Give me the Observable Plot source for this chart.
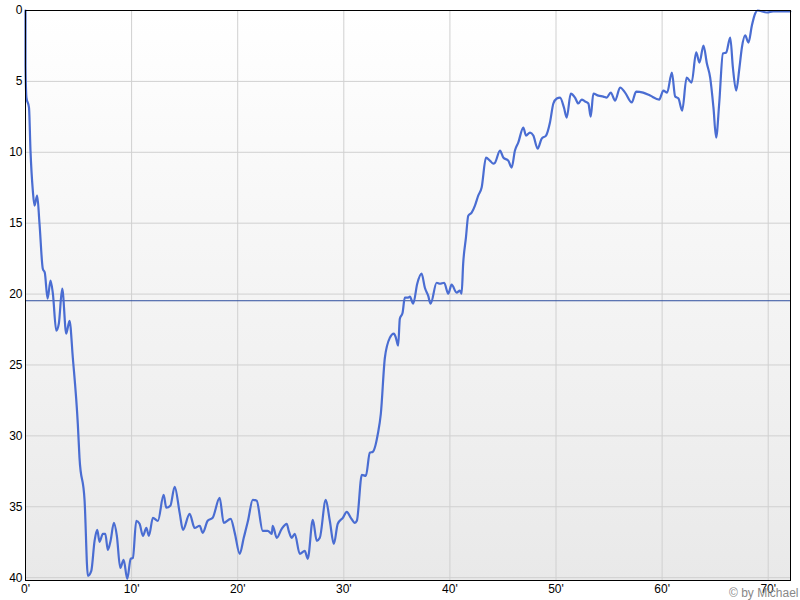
<!DOCTYPE html>
<html><head><meta charset="utf-8">
<script src="https://cdn.jsdelivr.net/npm/d3@7"></script>
<script src="https://cdn.jsdelivr.net/npm/@observablehq/plot@0.6"></script>
<style>body{margin:0;background:#fff;} #chart{width:800px;height:600px;}</style>
</head><body><div id="chart"></div>
<script>
const minutes = [0,0,0.09,0.33,0.47,0.69,0.85,1.10,1.32,1.63,1.82,2.08,2.36,2.58,2.90,3.14,3.46,3.84,4.15,4.46,4.93,5.09,5.57,5.88,6.20,6.51,6.76,6.98,7.29,7.52,7.76,8.02,8.33,8.61,8.93,9.25,9.59,9.91,10.12,10.44,10.75,11.07,11.39,11.63,12.01,12.48,13.02,13.27,13.65,14.06,14.53,14.84,15.47,15.94,16.42,16.70,17.17,17.64,18.30,18.68,19.34,19.72,20.19,20.57,20.97,21.42,21.79,22.36,22.83,23.21,23.30,23.68,24.15,24.62,24.81,25.09,25.38,25.85,26.32,26.60,27.08,27.45,27.74,28.30,28.68,29.06,29.43,29.91,30.28,30.66,31.04,31.23,31.70,32.08,32.45,32.74,33.21,33.49,33.87,34.34,34.72,34.91,35.12,35.28,35.54,35.75,36.07,36.23,36.54,36.92,37.33,37.64,37.95,38.18,38.75,39.06,39.46,39.84,40.16,40.63,40.94,41.10,41.25,41.51,41.73,42.05,42.36,42.67,42.99,43.40,43.77,44.08,44.25,44.72,45.03,45.50,45.82,46.13,46.44,46.92,47.17,47.55,47.86,48.27,48.65,49.06,49.43,49.75,50.07,50.38,50.75,51.01,51.39,51.79,52.10,52.42,52.74,53.05,53.27,53.52,53.99,54.46,54.78,55.16,55.57,56.04,56.51,57.14,57.55,58.21,58.87,59.72,60.12,60.47,60.92,61.23,61.54,61.89,62.31,62.78,63.21,63.52,63.90,64.22,64.53,64.84,65.09,65.38,65.73,66.04,66.42,66.67,66.98,67.29,67.52,67.83,68.14,68.46,68.77,68.99,69.88,70.47,72.08];
const positions = [0,3.88,6.14,6.85,9.88,12.70,13.76,13.06,15.03,18.21,18.49,20.32,19.05,19.97,22.58,22.09,19.62,22.79,21.88,24.49,29.15,31.55,34.58,39.87,39.52,37.40,36.63,37.47,36.91,36.91,38.04,37.40,36.13,37.05,39.31,38.74,40.08,38.67,38.60,35.99,36.20,37.05,36.49,37.05,35.78,35.99,34.16,35.07,34.93,33.59,35.43,36.63,35.50,36.49,36.34,36.84,35.99,35.78,34.37,36.13,35.85,36.84,38.32,37.19,35.99,34.51,34.58,36.70,36.70,36.91,36.34,37.19,36.56,36.20,36.70,37.19,36.91,38.32,38.11,38.67,35.92,37.40,37.19,34.51,35.99,37.62,36.20,35.78,35.36,35.78,36.13,35.99,32.75,32.82,31.19,31.12,29.85,28.44,24.49,23.08,22.79,23.08,23.64,21.74,21.31,20.25,20.25,20.18,20.68,19.27,18.56,19.55,20.11,20.68,19.20,19.27,19.20,19.97,19.34,19.90,19.76,19.97,17.85,16.02,14.47,14.26,13.76,13.06,12.49,10.37,10.59,10.80,10.73,9.88,10.37,10.59,11.08,9.88,9.32,8.26,8.82,8.61,8.82,9.74,9.03,8.82,7.90,6.56,6.21,6.14,6.85,7.55,5.86,6.14,6.56,6.28,6.42,6.56,7.48,5.86,6.00,6.07,6.14,5.79,6.35,5.43,5.79,6.49,5.72,5.79,6.00,6.28,5.65,5.79,4.38,6.07,6.21,7.06,4.73,5.08,2.96,3.67,2.47,3.74,4.73,6.85,8.96,6.56,3.03,2.96,1.91,4.02,5.65,4.02,2.61,1.76,2.26,1.06,0.21,0,0.14,0.07,0.07];
const referenceLevel = 20.47;
const xTicks = [0,10,20,30,40,50,60,70];
const yTicks = [0,5,10,15,20,25,30,35,40];
const credit = "© by Michael";

const data = minutes.map((m, i) => ({m, p: positions[i]}));

const chart = Plot.plot({
  width: 800, height: 600,
  marginLeft: 25, marginTop: 10, marginRight: 10, marginBottom: 20,
  style: {fontFamily: "'Liberation Sans', Arial, sans-serif", fontSize: "12px", background: "transparent", color: "#000", overflow: "visible"},
  x: {domain: [0, 72.1], ticks: xTicks, tickFormat: d => d + "'", tickSize: 0, tickPadding: 4, label: null},
  y: {domain: [0, 40.2], reverse: true, ticks: yTicks, tickSize: 0, tickPadding: 3, label: null},
  marks: [
    Plot.frame({fill: "url(#bg)"}),
    Plot.gridX(xTicks, {stroke: "#d0d0d0", strokeOpacity: 1}),
    Plot.gridY(yTicks, {stroke: "#d0d0d0", strokeOpacity: 1}),
    Plot.ruleY([referenceLevel], {stroke: "#2f4f9f", strokeWidth: 1}),
    Plot.line(data, {x: "m", y: "p", stroke: "#4a6dd2", strokeWidth: 2.2, curve: "monotone-x"}),
    Plot.frame({stroke: "#000"}),
    Plot.text([credit], {text: d => d, frameAnchor: "bottom-right", dx: 8, dy: 16, fill: "#888", fontSize: 12})
  ]
});

const defs = d3.select(chart).insert("defs", ":first-child");
const g = defs.append("linearGradient").attr("id", "bg").attr("x1", 0).attr("y1", 0).attr("x2", 0).attr("y2", 1);
g.append("stop").attr("offset", 0).attr("stop-color", "#ffffff");
g.append("stop").attr("offset", 1).attr("stop-color", "#e9e9e9");

document.getElementById("chart").appendChild(chart);
</script>
</body></html>
